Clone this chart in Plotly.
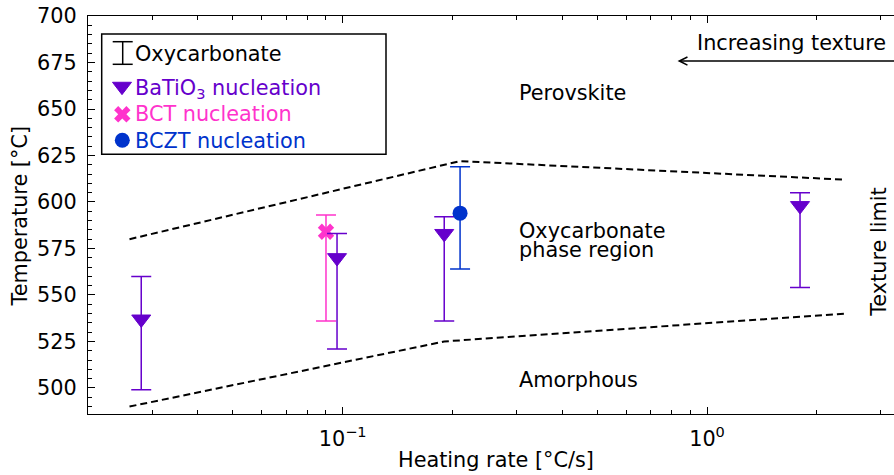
import numpy as np
import plotly.graph_objects as go

# BaTiO3 nucleation temperature and oxycarbonate window (°C) vs heating rate (°C/s)
bto_rate = [0.028, 0.0965, 0.19, 1.80]
bto_temp = [537, 570, 583, 598]
bto_oxy_hi = [560, 583, 592, 605]
bto_oxy_lo = [499, 521, 536, 554]

# BCT nucleation
bct_rate = [0.090]
bct_temp = [584]
bct_oxy_hi = [593]
bct_oxy_lo = [536]

# BCZT nucleation
bczt_rate = [0.21]
bczt_temp = [594]
bczt_oxy_hi = [619]
bczt_oxy_lo = [564]

# Oxycarbonate phase-region boundaries
upper_rate = [0.026, 0.21, 2.4]
upper_temp = [580, 622, 612]
lower_rate = [0.026, 0.19, 2.4]
lower_temp = [490, 525, 540]

# Axis ticks
x_major = [0.1, 1]
x_major_text = ["10<sup>−1</sup>", "10<sup>0</sup>"]
x_minor = [0.02, 0.03, 0.04, 0.05, 0.06, 0.07, 0.08, 0.09,
           0.2, 0.3, 0.4, 0.5, 0.6, 0.7, 0.8, 0.9, 2, 3]
y_range = [486, 700.01]
x_range = [0.02, 3.26]

PURPLE = "#6600cc"
PINK = "#ff33cc"
BLUE = "#0033cc"
FONT = "DejaVu Sans"
FS = 20.8
TRI = 16.5

W, H = 894, 475
L, R, T, B = 88, 0, 16, 61
PW, PH = W - L - R, H - T - B


def px(xp):
    return (xp - L) / PW


def py(yp):
    return (H - B - yp) / PH


def err(temp, hi, lo):
    plus = [h - t for h, t in zip(hi, temp)]
    minus = [t - l for t, l in zip(temp, lo)]
    return dict(type="data", symmetric=False, array=plus, arrayminus=minus,
                thickness=1.5, width=10)


fig = go.Figure()

for rate, temp in ((upper_rate, upper_temp), (lower_rate, lower_temp)):
    fig.add_trace(go.Scatter(x=rate, y=temp, mode="lines",
                             line=dict(color="black", width=2, dash="7px,4px"),
                             showlegend=False, hoverinfo="skip"))

fig.add_trace(go.Scatter(x=bct_rate, y=bct_temp, mode="markers",
                         marker=dict(symbol="x", size=14.5, color=PINK, line=dict(width=0)),
                         error_y={**err(bct_temp, bct_oxy_hi, bct_oxy_lo), "color": PINK},
                         showlegend=False))
fig.add_trace(go.Scatter(x=bto_rate, y=bto_temp, mode="markers",
                         marker=dict(symbol="triangle-down", size=TRI, color=PURPLE,
                                     line=dict(width=1, color=PURPLE)),
                         error_y={**err(bto_temp, bto_oxy_hi, bto_oxy_lo), "color": PURPLE},
                         showlegend=False))
fig.add_trace(go.Scatter(x=bczt_rate, y=bczt_temp, mode="markers",
                         marker=dict(symbol="circle", size=15, color=BLUE, line=dict(width=0)),
                         error_y={**err(bczt_temp, bczt_oxy_hi, bczt_oxy_lo), "color": BLUE},
                         showlegend=False))

# Legend keys drawn on a pixel-scaled overlay axis pair
fig.add_trace(go.Scatter(x=[112.7, 132.7, None, 122.7, 122.7, None, 112.7, 132.7],
                         y=[41.7, 41.7, None, 41.7, 64.3, None, 64.3, 64.3],
                         mode="lines", line=dict(color="black", width=1.5),
                         xaxis="x2", yaxis="y2", showlegend=False, hoverinfo="skip"))
fig.add_trace(go.Scatter(x=[122], y=[86.4], mode="markers",
                         marker=dict(symbol="triangle-down", size=TRI, color=PURPLE,
                                     line=dict(width=1, color=PURPLE)),
                         xaxis="x2", yaxis="y2", showlegend=False, hoverinfo="skip"))
fig.add_trace(go.Scatter(x=[122.3], y=[114.3], mode="markers",
                         marker=dict(symbol="x", size=14.5, color=PINK, line=dict(width=0)),
                         xaxis="x2", yaxis="y2", showlegend=False, hoverinfo="skip"))
fig.add_trace(go.Scatter(x=[122.3], y=[140.3], mode="markers",
                         marker=dict(symbol="circle", size=15, color=BLUE, line=dict(width=0)),
                         xaxis="x2", yaxis="y2", showlegend=False, hoverinfo="skip"))

fig.add_shape(type="rect", xref="paper", yref="paper",
              x0=px(101.7), x1=px(386), y0=py(154.3), y1=py(34),
              line=dict(color="black", width=1.5), fillcolor="white", layer="below")

legend_rows = [("Oxycarbonate", "black", 53.5),
               ("BaTiO<sub>3</sub> nucleation", PURPLE, 88.5),
               ("BCT nucleation", PINK, 114.3),
               ("BCZT nucleation", BLUE, 140.5)]
annotations = []
for text, color, yp in legend_rows:
    annotations.append(dict(text=text, xref="paper", yref="paper", x=px(133), y=py(yp),
                            xanchor="left", yanchor="middle", showarrow=False,
                            font=dict(family=FONT, size=FS, color=color)))

# Region labels
lx = np.log10(0.3)
for text, yv in (("Perovskite", 658.5), ("Oxycarbonate", 584.3),
                 ("phase region", 574.4), ("Amorphous", 504.4)):
    annotations.append(dict(text=text, xref="x", yref="y", x=lx, y=yv,
                            xanchor="left", yanchor="middle", showarrow=False,
                            font=dict(family=FONT, size=FS, color="black")))

annotations.append(dict(text="Texture limit", xref="x", yref="y", x=np.log10(2.95), y=573.3,
                        textangle=-90, xanchor="center", yanchor="middle", showarrow=False,
                        font=dict(family=FONT, size=FS, color="black")))
annotations.append(dict(text="Increasing texture", xref="x", yref="y", x=np.log10(3.13), y=685.3,
                        xanchor="right", yanchor="middle", showarrow=False,
                        font=dict(family=FONT, size=FS, color="black")))
annotations.append(dict(text="", xref="x", yref="y", x=np.log10(0.83), y=675.8,
                        axref="x", ayref="y", ax=np.log10(3.6), ay=675.8,
                        showarrow=True, arrowhead=5, arrowsize=1, arrowwidth=1.6,
                        arrowcolor="black", standoff=0, startstandoff=0))

# Axis titles
annotations.append(dict(text="Heating rate [°C/s]", xref="paper", yref="paper",
                        x=px(495.7), y=py(460), xanchor="center", yanchor="middle",
                        showarrow=False, font=dict(family=FONT, size=FS, color="black")))
annotations.append(dict(text="Temperature [°C]", xref="paper", yref="paper",
                        x=px(20), y=py(216.5), xanchor="center", yanchor="middle",
                        textangle=-90, showarrow=False,
                        font=dict(family=FONT, size=FS, color="black")))

fig.update_layout(
    width=W, height=H,
    margin=dict(l=L, r=R, t=T, b=B, pad=0),
    paper_bgcolor="white", plot_bgcolor="white",
    font=dict(family=FONT, size=FS, color="black"),
    showlegend=False,
    annotations=annotations,
    xaxis=dict(type="log", range=[np.log10(v) for v in x_range],
               tickmode="array", tickvals=x_major, ticktext=x_major_text,
               ticks="inside", ticklen=7, tickwidth=1.3, tickcolor="black",
               showline=True, linecolor="black", linewidth=1.3, mirror="allticks",
               showgrid=False, zeroline=False, ticklabelstandoff=6,
               tickfont=dict(family=FONT, size=FS, color="black"),
               minor=dict(tickmode="array", tickvals=x_minor, ticks="inside",
                          ticklen=4, tickwidth=1, tickcolor="black", showgrid=False)),
    yaxis=dict(range=y_range, tickmode="linear", tick0=500, dtick=25,
               ticks="inside", ticklen=7, tickwidth=1.3, tickcolor="black",
               showline=True, linecolor="black", linewidth=1.3, mirror=False,
               showgrid=False, zeroline=False, ticklabelstandoff=6,
               tickfont=dict(family=FONT, size=FS, color="black"),
               minor=dict(dtick=5, tick0=500, ticks="inside", ticklen=4, tickwidth=1,
                          tickcolor="black", showgrid=False)),
    xaxis2=dict(overlaying="x", range=[L, W - R], visible=False, fixedrange=True),
    yaxis2=dict(overlaying="y", range=[H - B, T], visible=False, fixedrange=True),
)

fig.write_html("out.html")
